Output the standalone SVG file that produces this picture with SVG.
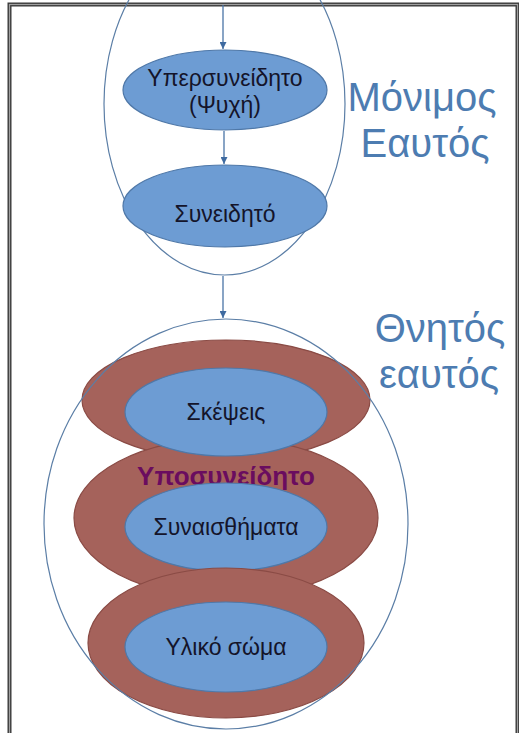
<svg xmlns="http://www.w3.org/2000/svg" width="519" height="733" viewBox="0 0 519 733">
  <defs>
    <style>
      .frame-out { fill: none; stroke: #3a3a3a; stroke-width: 4; }
      .frame-in { fill: none; stroke: #a0a0a0; stroke-width: 1.2; }
      .shell { fill: none; stroke: #5b7ea6; stroke-width: 1.2; }
      .core { fill: #6d9cd3; stroke: #4f78a8; stroke-width: 1.2; }
      .ring { fill: #a5625b; stroke: #8a4b45; stroke-width: 1.2; }
      .label { font-family: "Liberation Sans", Arial, sans-serif; font-size: 23px; fill: #14142a; text-anchor: middle; }
      .title { font-family: "Liberation Sans", Arial, sans-serif; font-size: 40px; fill: #4d7cb1; text-anchor: middle; }
      .sub { font-family: "Liberation Sans", Arial, sans-serif; font-size: 26px; font-weight: bold; fill: #6a0c5f; text-anchor: middle; }
      .conn { stroke: #4a74a6; stroke-width: 1.3; fill: none; }
    </style>
    <marker id="arrow" viewBox="0 0 10 10" refX="10" refY="5" markerWidth="7" markerHeight="7" markerUnits="userSpaceOnUse" orient="auto">
      <path d="M0,0 L10,5 L0,10 z" fill="#3e6aa0"/>
    </marker>
  </defs>

  <rect width="519" height="733" fill="#ffffff"/>

  <!-- page frame (double rule) -->
  <rect class="frame-out" x="9.5" y="4.5" width="508" height="740"/>
  <rect class="frame-in" x="9.5" y="4.5" width="508" height="740"/>

  <!-- permanent self -->
  <g id="permanent-self">
    <ellipse class="shell" cx="224.5" cy="104" rx="120.5" ry="171"/>
  </g>
  <g id="superconscious">
    <ellipse class="core" cx="225" cy="90" rx="102" ry="40"/>
    <text class="label" x="225" y="86">Υπερσυνείδητο</text>
    <text class="label" x="225" y="113">(Ψυχή)</text>
  </g>
  <g id="conscious">
    <ellipse class="core" cx="225" cy="206" rx="102" ry="41"/>
    <text class="label" x="225" y="222">Συνειδητό</text>
  </g>
  <g id="permanent-label">
    <text class="title" x="422" y="111">Μόνιμος</text>
    <text class="title" x="425" y="157">Εαυτός</text>
  </g>

  <!-- mortal self -->
  <g id="thoughts">
    <ellipse class="ring" cx="226" cy="400" rx="144" ry="60"/>
  </g>
  <g id="subconscious">
    <ellipse class="ring" cx="226" cy="518" rx="152" ry="80"/>
    <text class="sub" x="226" y="485">Υποσυνείδητο</text>
  </g>
  <g id="thoughts-core">
    <ellipse class="core" cx="226" cy="412" rx="101" ry="44"/>
    <text class="label" x="226" y="420">Σκέψεις</text>
  </g>
  <g id="emotions">
    <ellipse class="core" cx="226" cy="527" rx="101" ry="44"/>
    <text class="label" x="226" y="535">Συναισθήματα</text>
  </g>
  <g id="body">
    <ellipse class="ring" cx="226" cy="643" rx="138" ry="75"/>
    <ellipse class="core" cx="226" cy="647" rx="101" ry="45"/>
    <text class="label" x="226" y="655">Υλικό σώμα</text>
  </g>
  <g id="mortal-self">
    <ellipse class="shell" cx="226" cy="524" rx="182" ry="205"/>
  </g>
  <g id="mortal-label">
    <text class="title" x="440" y="342">Θνητός</text>
    <text class="title" x="439" y="388">εαυτός</text>
  </g>

  <!-- connectors -->
  <g id="connectors">
    <line class="conn" x1="223" y1="5" x2="223" y2="49" marker-end="url(#arrow)"/>
    <line class="conn" x1="224" y1="131" x2="224" y2="164" marker-end="url(#arrow)"/>
    <line class="conn" x1="223" y1="276" x2="223" y2="318" marker-end="url(#arrow)"/>
  </g>
</svg>
